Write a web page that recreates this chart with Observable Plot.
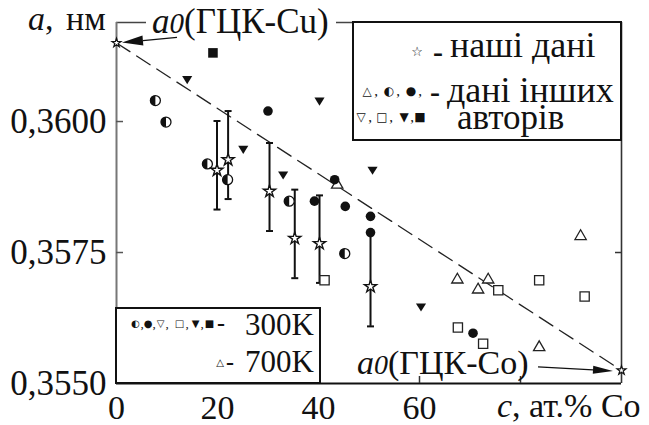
<!DOCTYPE html>
<html><head><meta charset="utf-8">
<script src="https://cdn.jsdelivr.net/npm/d3@7"></script>
<script src="https://cdn.jsdelivr.net/npm/@observablehq/plot@0.6"></script>
<style>html,body{margin:0;padding:0;background:#fff;} svg{display:block}</style>
</head><body><div id="chart"></div>
<script>
// ---- data (c in at.% Co, a in nm) ----
const vegardX = [0, 100];
const vegardY = [0.3615, 0.35525];

const oursX  = [19.9, 22.1, 30.3, 35.3, 40.2, 50.3];
const oursY  = [0.35907, 0.35927, 0.35867, 0.35777, 0.35767, 0.35685];
const oursHi = [0.36001, 0.36020, 0.35959, 0.35870, 0.35859, 0.35788];
const oursLo = [0.35832, 0.35852, 0.35791, 0.35701, 0.35692, 0.35609];

const halfX = [7.7, 9.8, 18.0, 22.0, 34.2, 45.2];
const halfY = [0.36040, 0.35999, 0.35919, 0.35889, 0.35848, 0.35748];

const fullX = [30.0, 39.2, 43.2, 45.3, 50.3, 50.3, 70.6];
const fullY = [0.36020, 0.35848, 0.35889, 0.35838, 0.35819, 0.35788, 0.35596];

const triDownX = [14.0, 25.1, 33.0, 40.2, 50.7, 60.3];
const triDownY = [0.36080, 0.35947, 0.35898, 0.36039, 0.35907, 0.35646];

const sqFullX = [19.1];
const sqFullY = [0.36131];

const sqOpenX = [41.2, 67.6, 72.6, 75.6, 83.7, 92.7];
const sqOpenY = [0.35697, 0.35607, 0.35576, 0.35678, 0.35697, 0.35666];

const triOpenX = [43.7, 67.5, 71.6, 73.6, 83.7, 91.9];
const triOpenY = [0.35879, 0.35698, 0.35679, 0.35698, 0.35569, 0.35781];

const xTicks = [0, 20, 40, 60];
const xTickMarks = [20, 40, 60, 80];
const yTicks = [0.3550, 0.3575, 0.3600];
const yTickMarks = [0.3575, 0.3600];

const zip = (xs, ys) => xs.map((x, i) => ({x, y: ys[i]}));
const vegard = zip(vegardX, vegardY);
const ours = oursX.map((x, i) => ({x, y: oursY[i], lo: oursLo[i], hi: oursHi[i]}));
const half = zip(halfX, halfY);
const full = zip(fullX, fullY);
const triDown = zip(triDownX, triDownY);
const sqFull = zip(sqFullX, sqFullY);
const sqOpen = zip(sqOpenX, sqOpenY);
const triOpen = zip(triOpenX, triOpenY);

// custom symbols
const leftHalf = {draw(ctx, size) {
  const r = Math.sqrt(size / Math.PI);
  ctx.moveTo(0, -r); ctx.arc(0, 0, r, -Math.PI / 2, Math.PI / 2, true); ctx.closePath();
}};
const downTri = {draw(ctx, size) {
  const r = Math.sqrt(size / Math.PI);
  ctx.moveTo(-r * 1.15, -r * 0.8); ctx.lineTo(r * 1.15, -r * 0.8); ctx.lineTo(0, r * 1.05); ctx.closePath();
}};
const cap = {draw(ctx, size) { ctx.moveTo(-3.5, 0); ctx.lineTo(3.5, 0); }};

const fmt = d => d.toFixed(4).replace(".", ",");

const svg = Plot.plot({
  width: 649, height: 425,
  marginLeft: 116, marginRight: 28, marginTop: 22, marginBottom: 42,
  style: {fontFamily: "'Liberation Serif', serif", fontSize: "35px", color: "#111", background: "white"},
  x: {domain: [0, 100], axis: null},
  y: {domain: [0.3550, 0.36189], axis: null},
  marks: [
    Plot.ruleY([0.36189], {stroke: "#444", strokeWidth: 1.5}),
    Plot.ruleX([100], {stroke: "#333", strokeWidth: 1.6}),
    Plot.ruleX([0], {stroke: "#777", strokeWidth: 2}),
    Plot.ruleY([0.3550], {stroke: "#111", strokeWidth: 2.2}),
    Plot.axisX({anchor: "bottom", ticks: xTickMarks, tickSize: -7, tickFormat: () => "", label: null, stroke: "#333", strokeWidth: 1.5}),
    Plot.axisX({anchor: "top", ticks: xTickMarks, tickSize: -7, tickFormat: () => "", label: null, stroke: "#333", strokeWidth: 1.5}),
    Plot.axisY({anchor: "left", ticks: yTickMarks, tickSize: -7, tickFormat: () => "", label: null, stroke: "#555", strokeWidth: 1.5}),
    Plot.axisY({anchor: "right", ticks: yTickMarks, tickSize: -7, tickFormat: () => "", label: null, stroke: "#333", strokeWidth: 1.5}),
    Plot.axisY({anchor: "left", ticks: yTicks, tickSize: 0, tickPadding: 10, tickFormat: fmt, fontSize: 35, label: null, fill: "#111"}),
    Plot.axisX({anchor: "bottom", ticks: xTicks, tickSize: 0, tickPadding: 11, tickFormat: d => String(d), fontSize: 34, label: null, fill: "#111"}),
    Plot.line(vegard, {x: "x", y: "y", stroke: "#222", strokeWidth: 1.3, strokeDasharray: "16,8"}),
    Plot.ruleX(ours, {x: "x", y1: "lo", y2: "hi", stroke: "#111", strokeWidth: 2}),
    Plot.dot(ours, {x: "x", y: "hi", symbol: cap, r: 3, stroke: "#111", strokeWidth: 2, fill: "none"}),
    Plot.dot(ours, {x: "x", y: "lo", symbol: cap, r: 3, stroke: "#111", strokeWidth: 2, fill: "none"}),
    Plot.dot(sqOpen, {x: "x", y: "y", symbol: "square", r: 5.2, fill: "white", stroke: "#222", strokeWidth: 1.3}),
    Plot.dot(triOpen, {x: "x", y: "y", symbol: "triangle", r: 4.2, fill: "white", stroke: "#222", strokeWidth: 1.3}),
    Plot.dot(half, {x: "x", y: "y", symbol: "circle", r: 5, fill: "white", stroke: "#111", strokeWidth: 1.3}),
    Plot.dot(half, {x: "x", y: "y", symbol: leftHalf, r: 5, fill: "#111"}),
    Plot.dot(full, {x: "x", y: "y", r: 4.8, fill: "#111"}),
    Plot.dot(triDown, {x: "x", y: "y", symbol: downTri, r: 4.4, fill: "#111"}),
    Plot.dot(sqFull, {x: "x", y: "y", symbol: "square", r: 5.4, fill: "#111"}),
    Plot.dot(ours, {x: "x", y: "y", symbol: "star", r: 3.8, fill: "white", stroke: "#111", strokeWidth: 1.4}),
    Plot.dot(vegard, {x: "x", y: "y", symbol: "star", r: 2.8, fill: "white", stroke: "#111", strokeWidth: 1.2})
  ]
});
document.getElementById("chart").appendChild(svg);

const xs = svg.scale("x"), ys = svg.scale("y");
const g = d3.select(svg).append("g").attr("text-anchor", "start");
const SERIF = "'Liberation Serif', serif", SYM = "'DejaVu Sans', sans-serif";

function txt(x, y, size, font) {
  return g.append("text").attr("x", x).attr("y", y).attr("text-anchor", "start")
    .attr("font-family", font || SERIF).attr("font-size", size).attr("fill", "#111");
}
function arrow(x1, y1, x2, y2, hl, hw) {
  const dx = x2 - x1, dy = y2 - y1, L = Math.hypot(dx, dy), ux = dx / L, uy = dy / L;
  const bx = x2 - ux * hl, by = y2 - uy * hl;
  g.append("line").attr("x1", x1).attr("y1", y1).attr("x2", bx).attr("y2", by)
    .attr("stroke", "#111").attr("stroke-width", 1.3);
  g.append("path").attr("d", `M${x2},${y2}L${bx - uy * hw / 2},${by + ux * hw / 2}L${bx + uy * hw / 2},${by - ux * hw / 2}Z`).attr("fill", "#111");
}

// axis titles
const tY = txt(28, 30, 34);
tY.append("tspan").attr("font-style", "italic").text("a");
tY.append("tspan").text(",");
txt(66, 30, 34).text("нм");

const tX = txt(497, 417, 34);
tX.append("tspan").attr("font-style", "italic").text("c");
tX.append("tspan").text(", ат.% Co");

// a0 (Cu) annotation
const cuX = xs.apply(vegardX[0]), cuY = ys.apply(vegardY[0]);
g.append("rect").attr("x", 146).attr("y", 6).attr("width", 190).attr("height", 29).attr("fill", "white");
const tCu = txt(152, 33, 35);
tCu.append("tspan").attr("font-style", "italic").text("a");
tCu.append("tspan").attr("font-style", "italic").attr("font-size", 29).text("0");
tCu.append("tspan").text("(ГЦК-Cu)");
arrow(cuX + 61, cuY - 5, cuX + 6, cuY, 21, 10);

// a0 (Co) annotation
const coX = xs.apply(vegardX[1]), coY = ys.apply(vegardY[1]);
const tCo = txt(357, 374, 34);
tCo.append("tspan").attr("font-style", "italic").text("a");
tCo.append("tspan").attr("font-style", "italic").attr("font-size", 28).text("0");
tCo.append("tspan").text("(ГЦК-Co)");
arrow(coX - 83, coY - 3, coX - 8, coY + 1, 20, 8);

// legends
function glyphs(list, y, size) {
  list.forEach(([ch, x, font, fs, weight]) => {
    g.append("text").attr("x", x).attr("y", y).attr("text-anchor", "middle").attr("dominant-baseline", "central")
      .attr("font-family", font || SYM).attr("font-size", fs || size).attr("font-weight", weight || "normal")
      .attr("fill", "#111").text(ch);
  });
}
// top-right legend
g.append("rect").attr("x", 353).attr("y", 22).attr("width", 268).attr("height", 118)
  .attr("fill", "white").attr("stroke", "#111").attr("stroke-width", 2);
glyphs([["☆", 417, SYM, 13], ["-", 438, SERIF, 30, "bold"]], 51, 12);
txt(450, 57, 36).text("наші дані");
glyphs([["△", 367], [",", 376, SERIF, 15], ["◐", 389], [",", 398, SERIF, 15], ["●", 411], [",", 420, SERIF, 15], ["-", 435, SERIF, 30, "bold"]], 91, 12);
txt(447, 102, 36).text("дані інших");
glyphs([["▽", 361], [",", 370, SERIF, 15], ["□", 382], [",", 391, SERIF, 15], ["▼", 404], [",", 412, SERIF, 15], ["■", 420]], 117, 12);
txt(457, 129, 35).text("авторів");

// bottom-left legend
g.append("rect").attr("x", 116).attr("y", 308).attr("width", 204).attr("height", 75)
  .attr("fill", "white").attr("stroke", "#111").attr("stroke-width", 2);
glyphs([["◐", 135.5], [",", 142, SERIF, 13], ["●", 148], [",", 154, SERIF, 13], ["▽", 160.5], [",", 167, SERIF, 13],
        ["□", 179.5], [",", 187, SERIF, 13], ["▼", 195.5], [",", 202, SERIF, 13], ["■", 209.5], ["-", 221, SERIF, 24, "bold"]], 323, 10);
txt(245, 335, 31).text("300K");
glyphs([["△", 220], ["-", 230, SERIF, 24, "bold"]], 362, 10);
txt(245, 372, 31).text("700K");
</script>
</body></html>
